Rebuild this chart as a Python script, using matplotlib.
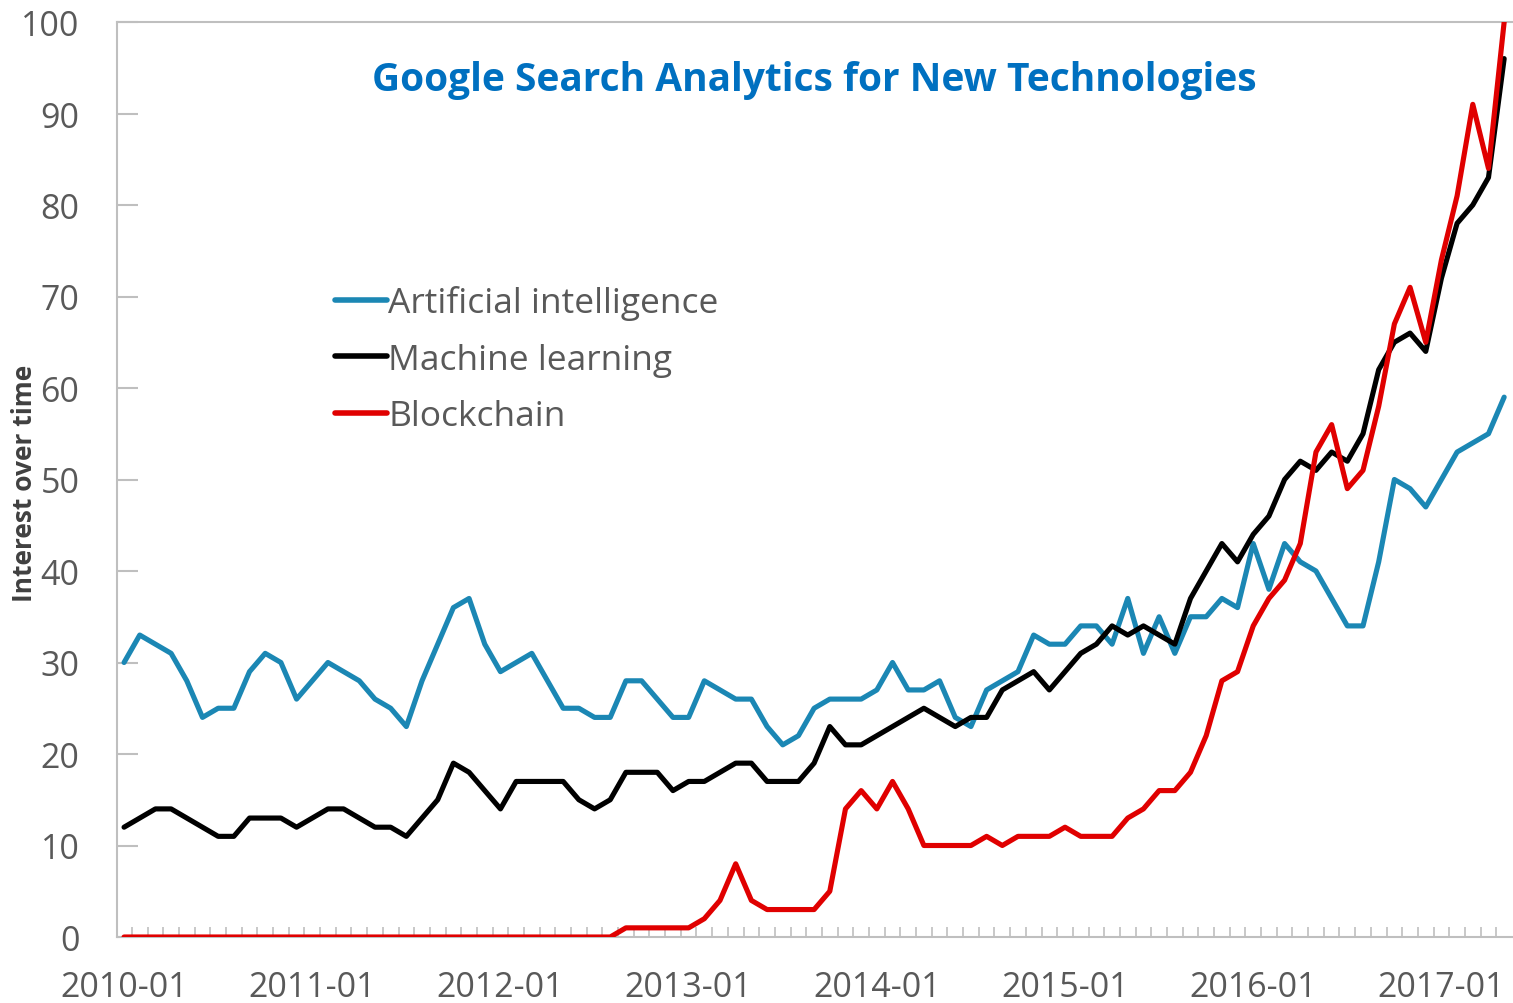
import matplotlib
matplotlib.use("Agg")
import matplotlib.pyplot as plt
import pandas as pd
from matplotlib.ticker import FixedLocator

# ---- data (monthly Google Trends interest, 2010-01 .. 2017-05) ----
months = pd.date_range("2010-01-01", "2017-05-01", freq="MS").strftime("%Y-%m").tolist()

artificial_intelligence = [
    30, 33, 32, 31, 28, 24, 25, 25, 29, 31, 30, 26,   # 2010
    28, 30, 29, 28, 26, 25, 23, 28, 32, 36, 37, 32,   # 2011
    29, 30, 31, 28, 25, 25, 24, 24, 28, 28, 26, 24,   # 2012
    24, 28, 27, 26, 26, 23, 21, 22, 25, 26, 26, 26,   # 2013
    27, 30, 27, 27, 28, 24, 23, 27, 28, 29, 33, 32,   # 2014
    32, 34, 34, 32, 37, 31, 35, 31, 35, 35, 37, 36,   # 2015
    43, 38, 43, 41, 40, 37, 34, 34, 41, 50, 49, 47,   # 2016
    50, 53, 54, 55, 59,                               # 2017
]
machine_learning = [
    12, 13, 14, 14, 13, 12, 11, 11, 13, 13, 13, 12,
    13, 14, 14, 13, 12, 12, 11, 13, 15, 19, 18, 16,
    14, 17, 17, 17, 17, 15, 14, 15, 18, 18, 18, 16,
    17, 17, 18, 19, 19, 17, 17, 17, 19, 23, 21, 21,
    22, 23, 24, 25, 24, 23, 24, 24, 27, 28, 29, 27,
    29, 31, 32, 34, 33, 34, 33, 32, 37, 40, 43, 41,
    44, 46, 50, 52, 51, 53, 52, 55, 62, 65, 66, 64,
    72, 78, 80, 83, 96,
]
blockchain = [
    0, 0, 0, 0, 0, 0, 0, 0, 0, 0, 0, 0,
    0, 0, 0, 0, 0, 0, 0, 0, 0, 0, 0, 0,
    0, 0, 0, 0, 0, 0, 0, 0, 1, 1, 1, 1,
    1, 2, 4, 8, 4, 3, 3, 3, 3, 5, 14, 16,
    14, 17, 14, 10, 10, 10, 10, 11, 10, 11, 11, 11,
    12, 11, 11, 11, 13, 14, 16, 16, 18, 22, 28, 29,
    34, 37, 39, 43, 53, 56, 49, 51, 58, 67, 71, 65,
    74, 81, 91, 84, 100,
]
series_names = ["Artificial intelligence", "Machine learning", "Blockchain"]
series_colors = ["#1B87B4", "#000000", "#E00000"]
y_ticks = [0, 10, 20, 30, 40, 50, 60, 70, 80, 90, 100]
label_months = ["2010-01", "2011-01", "2012-01", "2013-01", "2014-01",
                "2015-01", "2016-01", "2017-01"]

title = "Google Search Analytics for New Technologies"
ylabel = "Interest over time"

# ---- figure ----
W, H, DPI = 1513, 1004, 100
fig = plt.figure(figsize=(W / DPI, H / DPI), dpi=DPI)
AX_L, AX_R, AX_T, AX_B = 117, 1512, 23, 938
ax = fig.add_axes([AX_L / W, 1 - AX_B / H, (AX_R - AX_L) / W, (AX_B - AX_T) / H])
AW, AH = AX_R - AX_L, AX_B - AX_T

FONT = "Open Sans"
x = list(range(len(months)))
for vals, name, col, z in zip([artificial_intelligence, machine_learning, blockchain],
                              series_names, series_colors, [2, 3, 4]):
    ax.plot(x, vals, color=col, lw=3.7, label=name, zorder=z,
            solid_joinstyle="round", solid_capstyle="round")

ax.set_xlim(-0.45, len(months) - 0.5)
ax.set_ylim(0, 100)

grey = "#BFBFBF"
for side in ["left", "bottom", "top"]:
    ax.spines[side].set_color(grey)
    ax.spines[side].set_linewidth(1.5)
ax.spines["right"].set_visible(False)

# y axis
ax.set_yticks(y_ticks)
ax.set_yticklabels([str(v) for v in y_ticks])
ax.tick_params(axis="y", direction="in", length=15, width=1.5, color=grey,
               pad=27, labelsize=24.5, labelcolor="#595959")

# x axis
ax.set_xticks([months.index(m) for m in label_months])
ax.set_xticklabels(label_months)
ax.xaxis.set_minor_locator(FixedLocator([i + 0.5 for i in range(len(months) - 1)]))
ax.tick_params(axis="x", which="major", length=0, pad=24, labelsize=24.5,
               labelcolor="#595959")
ax.tick_params(axis="x", which="minor", direction="in", length=7, width=1.2,
               color=grey)
for lab in ax.get_xticklabels() + ax.get_yticklabels():
    lab.set_fontfamily(FONT)

ax.set_ylabel(ylabel, fontsize=19, fontweight="bold", color="#404040",
              fontfamily=FONT)
ax.yaxis.set_label_coords(-(AX_L - 38) / AW, (AX_B - 483) / AH)

ax.text(0.5, 1 - (81 - AX_T) / AH, title, transform=ax.transAxes,
        ha="center", va="center", fontsize=28, fontweight="bold",
        color="#0070C0", fontfamily=FONT)

leg = ax.legend(loc="upper left", bbox_to_anchor=((321 - AX_L) / AW,
                                                  1 - (272 - AX_T) / AH),
                frameon=False, handlelength=1.45, handletextpad=0.05,
                labelspacing=0.64, borderaxespad=0,
                prop={"family": FONT, "size": 25.5})
for t in leg.get_texts():
    t.set_color("#595959")
for h in leg.get_lines():
    h.set_linewidth(4)

fig.savefig("out.png", dpi=DPI)
